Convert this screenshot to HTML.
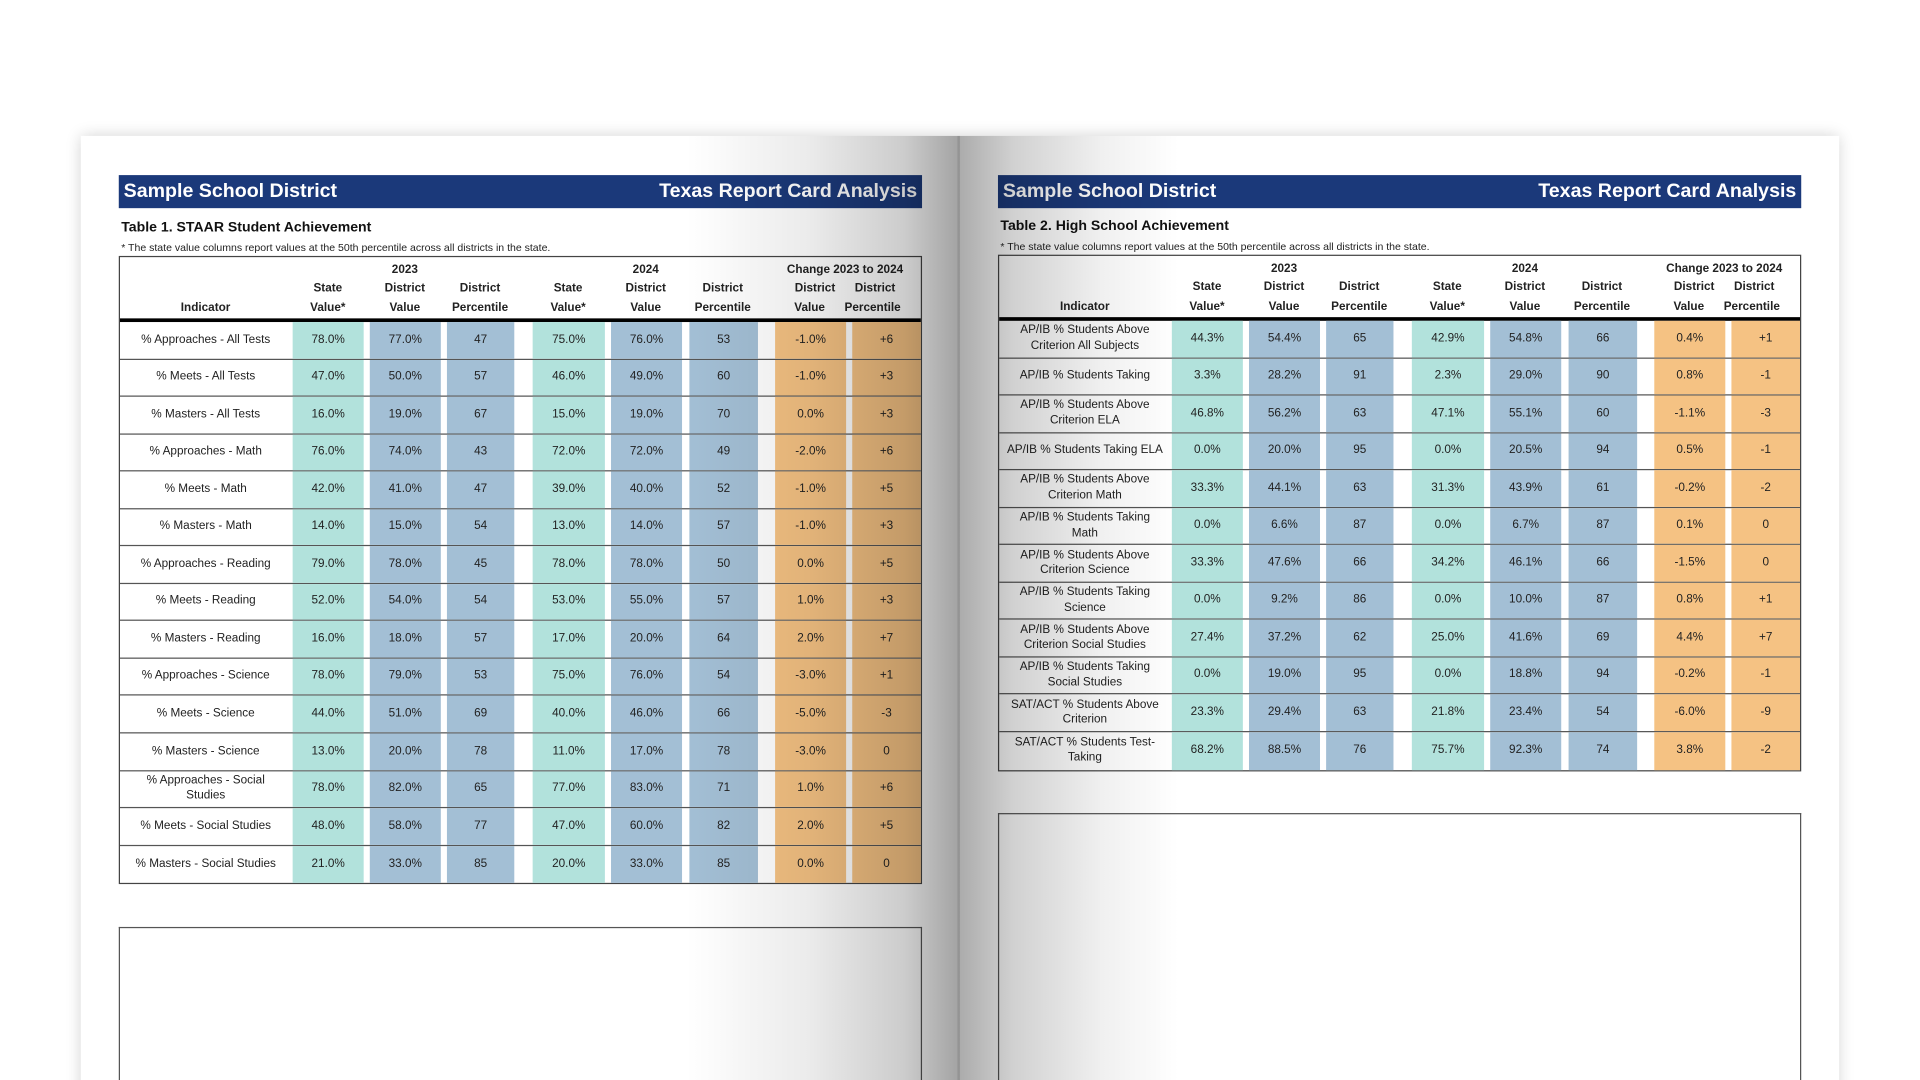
<!DOCTYPE html>
<html><head><meta charset="utf-8"><style>
*{margin:0;padding:0;box-sizing:border-box}
html,body{width:1920px;height:1080px;overflow:hidden;background:#fff}
#s{position:absolute;left:0;top:0;width:1568px;height:882px;overflow:hidden;transform:scale(1.22449);transform-origin:0 0;font-family:"Liberation Sans",sans-serif;color:#222}
.page{position:absolute;left:66px;top:111px;width:1436px;height:800px;background:#fff;box-shadow:0 0 12px rgba(0,0,0,0.18)}
.bar{position:absolute;height:27px;background:#1b397a;color:#fff;font-weight:bold;font-size:16px;line-height:28px;padding:0 4px}
.bar span{position:absolute;right:4px;top:0}
.t1{position:absolute;font-weight:bold;font-size:11.5px;color:#111}
.t2{position:absolute;font-size:8.6px;color:#222}
.tbl{position:absolute;width:656px;border:1px solid #444;border-top:1.5px solid #444;background:#fff}
.hd{display:flex;height:53px;border-bottom:3px solid #000}
.hd div{font-weight:bold;font-size:9.6px;line-height:15.5px;text-align:center;display:flex;flex-direction:column;justify-content:flex-end;padding-bottom:1px}
.r{display:flex;height:30.55px;border-bottom:1.5px solid #555}
.r:last-child{border-bottom:none}
.r div{font-size:9.6px;text-align:center;display:flex;align-items:center;justify-content:center;line-height:12.5px}
.c0{width:140px}
.c1{width:58px;margin-left:1px}.c2{width:58px;margin-left:5px}.c3{width:55px;margin-left:5px}
.c4{width:59px;margin-left:15px}.c5{width:58px;margin-left:5px}.c6{width:56px;margin-left:6px}
.c7{width:58px;margin-left:14px}.c8{width:56px;margin-left:5px}
.r .c1,.r .c4{background:#b2e2dc}
.r .c2,.r .c3,.r .c5,.r .c6{background:#a3bfd5}
.r .c7,.r .c8{background:#f5c283}
.box{position:absolute;border:1px solid #555;border-bottom:none;background:#fff}
.shL{position:absolute;left:560px;top:111px;width:223px;height:771px;background:linear-gradient(to right,rgba(0,0,0,0) 0%,rgba(0,0,0,0.08) 45%,rgba(0,0,0,0.2) 80%,rgba(0,0,0,0.36) 100%)}
.shR{position:absolute;left:783px;top:111px;width:180px;height:771px;background:linear-gradient(to right,rgba(0,0,0,0.33) 0%,rgba(0,0,0,0.18) 25%,rgba(0,0,0,0.06) 65%,rgba(0,0,0,0) 100%)}
.spine{position:absolute;left:782px;top:111px;width:2px;height:771px;background:rgba(0,0,0,0.12)}
</style></head><body><div id="s">
<div class="page"></div>

<div class="bar" style="left:97px;top:143px;width:656px">Sample School District<span>Texas Report Card Analysis</span></div>
<div class="t1" style="left:99px;top:180px">Table 1. STAAR Student Achievement</div>
<div class="t2" style="left:99px;top:197px">* The state value columns report values at the 50th percentile across all districts in the state.</div>
<div class="tbl" style="left:97px;top:209px">
<div class="hd"><div class="c0">Indicator</div><div class="c1">State<br>Value*</div><div class="c2">2023<br>District<br>Value</div><div class="c3">District<br>Percentile</div><div class="c4">State<br>Value*</div><div class="c5">2024<br>District<br>Value</div><div class="c6">District<br>Percentile</div><div class="c7" style="width:124px;margin-left:10px">Change 2023 to 2024<br><span style="display:flex;justify-content:space-around">District&nbsp;&nbsp;&nbsp;&nbsp;&nbsp;&nbsp;District</span><span style="display:flex;justify-content:space-around;padding-left:4px">Value&nbsp;&nbsp;&nbsp;&nbsp;&nbsp;&nbsp;Percentile</span></div></div>
<div class="r"><div class="c0">% Approaches - All Tests</div><div class="c1">78.0%</div><div class="c2">77.0%</div><div class="c3">47</div><div class="c4">75.0%</div><div class="c5">76.0%</div><div class="c6">53</div><div class="c7">-1.0%</div><div class="c8">+6</div></div>
<div class="r"><div class="c0">% Meets - All Tests</div><div class="c1">47.0%</div><div class="c2">50.0%</div><div class="c3">57</div><div class="c4">46.0%</div><div class="c5">49.0%</div><div class="c6">60</div><div class="c7">-1.0%</div><div class="c8">+3</div></div>
<div class="r"><div class="c0">% Masters - All Tests</div><div class="c1">16.0%</div><div class="c2">19.0%</div><div class="c3">67</div><div class="c4">15.0%</div><div class="c5">19.0%</div><div class="c6">70</div><div class="c7">0.0%</div><div class="c8">+3</div></div>
<div class="r"><div class="c0">% Approaches - Math</div><div class="c1">76.0%</div><div class="c2">74.0%</div><div class="c3">43</div><div class="c4">72.0%</div><div class="c5">72.0%</div><div class="c6">49</div><div class="c7">-2.0%</div><div class="c8">+6</div></div>
<div class="r"><div class="c0">% Meets - Math</div><div class="c1">42.0%</div><div class="c2">41.0%</div><div class="c3">47</div><div class="c4">39.0%</div><div class="c5">40.0%</div><div class="c6">52</div><div class="c7">-1.0%</div><div class="c8">+5</div></div>
<div class="r"><div class="c0">% Masters - Math</div><div class="c1">14.0%</div><div class="c2">15.0%</div><div class="c3">54</div><div class="c4">13.0%</div><div class="c5">14.0%</div><div class="c6">57</div><div class="c7">-1.0%</div><div class="c8">+3</div></div>
<div class="r"><div class="c0">% Approaches - Reading</div><div class="c1">79.0%</div><div class="c2">78.0%</div><div class="c3">45</div><div class="c4">78.0%</div><div class="c5">78.0%</div><div class="c6">50</div><div class="c7">0.0%</div><div class="c8">+5</div></div>
<div class="r"><div class="c0">% Meets - Reading</div><div class="c1">52.0%</div><div class="c2">54.0%</div><div class="c3">54</div><div class="c4">53.0%</div><div class="c5">55.0%</div><div class="c6">57</div><div class="c7">1.0%</div><div class="c8">+3</div></div>
<div class="r"><div class="c0">% Masters - Reading</div><div class="c1">16.0%</div><div class="c2">18.0%</div><div class="c3">57</div><div class="c4">17.0%</div><div class="c5">20.0%</div><div class="c6">64</div><div class="c7">2.0%</div><div class="c8">+7</div></div>
<div class="r"><div class="c0">% Approaches - Science</div><div class="c1">78.0%</div><div class="c2">79.0%</div><div class="c3">53</div><div class="c4">75.0%</div><div class="c5">76.0%</div><div class="c6">54</div><div class="c7">-3.0%</div><div class="c8">+1</div></div>
<div class="r"><div class="c0">% Meets - Science</div><div class="c1">44.0%</div><div class="c2">51.0%</div><div class="c3">69</div><div class="c4">40.0%</div><div class="c5">46.0%</div><div class="c6">66</div><div class="c7">-5.0%</div><div class="c8">-3</div></div>
<div class="r"><div class="c0">% Masters - Science</div><div class="c1">13.0%</div><div class="c2">20.0%</div><div class="c3">78</div><div class="c4">11.0%</div><div class="c5">17.0%</div><div class="c6">78</div><div class="c7">-3.0%</div><div class="c8">0</div></div>
<div class="r"><div class="c0">% Approaches - Social<br>Studies</div><div class="c1">78.0%</div><div class="c2">82.0%</div><div class="c3">65</div><div class="c4">77.0%</div><div class="c5">83.0%</div><div class="c6">71</div><div class="c7">1.0%</div><div class="c8">+6</div></div>
<div class="r"><div class="c0">% Meets - Social Studies</div><div class="c1">48.0%</div><div class="c2">58.0%</div><div class="c3">77</div><div class="c4">47.0%</div><div class="c5">60.0%</div><div class="c6">82</div><div class="c7">2.0%</div><div class="c8">+5</div></div>
<div class="r"><div class="c0">% Masters - Social Studies</div><div class="c1">21.0%</div><div class="c2">33.0%</div><div class="c3">85</div><div class="c4">20.0%</div><div class="c5">33.0%</div><div class="c6">85</div><div class="c7">0.0%</div><div class="c8">0</div></div>
</div>
<div class="box" style="left:97px;top:757px;width:656px;height:130px"></div>

<div class="bar" style="left:815px;top:143px;width:656px">Sample School District<span>Texas Report Card Analysis</span></div>
<div class="t1" style="left:817px;top:179px">Table 2. High School Achievement</div>
<div class="t2" style="left:817px;top:196px">* The state value columns report values at the 50th percentile across all districts in the state.</div>
<div class="tbl" style="left:815px;top:208px">
<div class="hd"><div class="c0">Indicator</div><div class="c1">State<br>Value*</div><div class="c2">2023<br>District<br>Value</div><div class="c3">District<br>Percentile</div><div class="c4">State<br>Value*</div><div class="c5">2024<br>District<br>Value</div><div class="c6">District<br>Percentile</div><div class="c7" style="width:124px;margin-left:10px">Change 2023 to 2024<br><span style="display:flex;justify-content:space-around">District&nbsp;&nbsp;&nbsp;&nbsp;&nbsp;&nbsp;District</span><span style="display:flex;justify-content:space-around;padding-left:4px">Value&nbsp;&nbsp;&nbsp;&nbsp;&nbsp;&nbsp;Percentile</span></div></div>
<div class="r"><div class="c0">AP/IB % Students Above<br>Criterion All Subjects</div><div class="c1">44.3%</div><div class="c2">54.4%</div><div class="c3">65</div><div class="c4">42.9%</div><div class="c5">54.8%</div><div class="c6">66</div><div class="c7">0.4%</div><div class="c8">+1</div></div>
<div class="r"><div class="c0">AP/IB % Students Taking</div><div class="c1">3.3%</div><div class="c2">28.2%</div><div class="c3">91</div><div class="c4">2.3%</div><div class="c5">29.0%</div><div class="c6">90</div><div class="c7">0.8%</div><div class="c8">-1</div></div>
<div class="r"><div class="c0">AP/IB % Students Above<br>Criterion ELA</div><div class="c1">46.8%</div><div class="c2">56.2%</div><div class="c3">63</div><div class="c4">47.1%</div><div class="c5">55.1%</div><div class="c6">60</div><div class="c7">-1.1%</div><div class="c8">-3</div></div>
<div class="r"><div class="c0">AP/IB % Students Taking ELA</div><div class="c1">0.0%</div><div class="c2">20.0%</div><div class="c3">95</div><div class="c4">0.0%</div><div class="c5">20.5%</div><div class="c6">94</div><div class="c7">0.5%</div><div class="c8">-1</div></div>
<div class="r"><div class="c0">AP/IB % Students Above<br>Criterion Math</div><div class="c1">33.3%</div><div class="c2">44.1%</div><div class="c3">63</div><div class="c4">31.3%</div><div class="c5">43.9%</div><div class="c6">61</div><div class="c7">-0.2%</div><div class="c8">-2</div></div>
<div class="r"><div class="c0">AP/IB % Students Taking<br>Math</div><div class="c1">0.0%</div><div class="c2">6.6%</div><div class="c3">87</div><div class="c4">0.0%</div><div class="c5">6.7%</div><div class="c6">87</div><div class="c7">0.1%</div><div class="c8">0</div></div>
<div class="r"><div class="c0">AP/IB % Students Above<br>Criterion Science</div><div class="c1">33.3%</div><div class="c2">47.6%</div><div class="c3">66</div><div class="c4">34.2%</div><div class="c5">46.1%</div><div class="c6">66</div><div class="c7">-1.5%</div><div class="c8">0</div></div>
<div class="r"><div class="c0">AP/IB % Students Taking<br>Science</div><div class="c1">0.0%</div><div class="c2">9.2%</div><div class="c3">86</div><div class="c4">0.0%</div><div class="c5">10.0%</div><div class="c6">87</div><div class="c7">0.8%</div><div class="c8">+1</div></div>
<div class="r"><div class="c0">AP/IB % Students Above<br>Criterion Social Studies</div><div class="c1">27.4%</div><div class="c2">37.2%</div><div class="c3">62</div><div class="c4">25.0%</div><div class="c5">41.6%</div><div class="c6">69</div><div class="c7">4.4%</div><div class="c8">+7</div></div>
<div class="r"><div class="c0">AP/IB % Students Taking<br>Social Studies</div><div class="c1">0.0%</div><div class="c2">19.0%</div><div class="c3">95</div><div class="c4">0.0%</div><div class="c5">18.8%</div><div class="c6">94</div><div class="c7">-0.2%</div><div class="c8">-1</div></div>
<div class="r"><div class="c0">SAT/ACT % Students Above<br>Criterion</div><div class="c1">23.3%</div><div class="c2">29.4%</div><div class="c3">63</div><div class="c4">21.8%</div><div class="c5">23.4%</div><div class="c6">54</div><div class="c7">-6.0%</div><div class="c8">-9</div></div>
<div class="r"><div class="c0">SAT/ACT % Students Test-<br>Taking</div><div class="c1">68.2%</div><div class="c2">88.5%</div><div class="c3">76</div><div class="c4">75.7%</div><div class="c5">92.3%</div><div class="c6">74</div><div class="c7">3.8%</div><div class="c8">-2</div></div>
</div>
<div class="box" style="left:815px;top:664px;width:656px;height:230px"></div>

<div class="shL"></div><div class="shR"></div><div class="spine"></div>
</div></body></html>
